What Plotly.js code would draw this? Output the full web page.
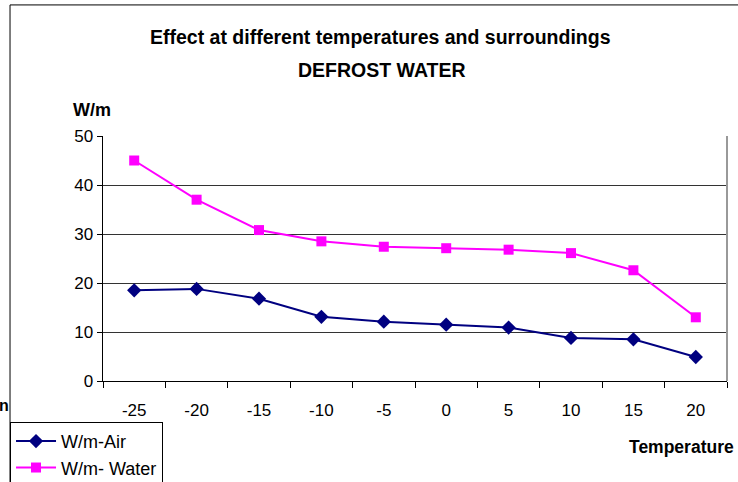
<!DOCTYPE html>
<html>
<head>
<meta charset="utf-8">
<script src="https://cdn.plot.ly/plotly-3.0.1.min.js"></script>
<style>html,body{margin:0;padding:0;background:#fff;}#chart{width:738px;height:482px;}</style>
</head>
<body>
<div id="chart"></div>
<script>
var temperatures = ["-25", "-20", "-15", "-10", "-5", "0", "5", "10", "15", "20"];
var airValues = [18.5, 18.8, 16.8, 13.1, 12.1, 11.5, 10.9, 8.8, 8.5, 4.9];
var waterValues = [45.0, 37.0, 30.8, 28.5, 27.4, 27.1, 26.8, 26.1, 22.6, 13.0];
var yTicks = [0, 10, 20, 30, 40, 50];

var FONT = "Liberation Sans, Arial, sans-serif";

var traces = [
  {
    x: temperatures, y: airValues, name: "W/m-Air", type: "scatter", mode: "lines+markers",
    line: {color: "#000080", width: 2},
    marker: {symbol: "diamond", size: 11, color: "#000080"}
  },
  {
    x: temperatures, y: waterValues, name: "W/m- Water", type: "scatter", mode: "lines+markers",
    line: {color: "#FF00FF", width: 2},
    marker: {symbol: "square", size: 10, color: "#FF00FF"}
  }
];

var layout = {
  width: 738, height: 482,
  margin: {l: 103, r: 11, t: 136, b: 101, autoexpand: false},
  paper_bgcolor: "#fff", plot_bgcolor: "#fff",
  font: {family: FONT, color: "#000", size: 16},
  showlegend: true,
  xaxis: {
    type: "category",
    range: [-0.5, 9.5],
    tickson: "boundaries",
    ticks: "outside", ticklen: 6, tickcolor: "#000", tickwidth: 1,
    ticklabelstandoff: 14,
    showline: true, linecolor: "#000", linewidth: 1,
    showgrid: false, zeroline: false,
    tickfont: {family: FONT, size: 17, color: "#000"},
    automargin: false,
    fixedrange: true
  },
  yaxis: {
    range: [0, 50],
    tickvals: yTicks,
    ticks: "outside", ticklen: 5, tickcolor: "#000", tickwidth: 1,
    showline: true, linecolor: "#000", linewidth: 1.5,
    showgrid: true, gridcolor: "#333", gridwidth: 1,
    zeroline: false,
    tickfont: {family: FONT, size: 17, color: "#000"},
    automargin: false,
    fixedrange: true
  },
  legend: {
    x: -0.149, xanchor: "left", xref: "paper",
    y: -0.167, yanchor: "top", yref: "paper",
    bgcolor: "#fff", bordercolor: "#000", borderwidth: 1,
    font: {family: FONT, size: 18, color: "#000"},
    tracegroupgap: 0, itemwidth: 40
  },
  annotations: [
    {text: "<b>Effect at different temperatures and surroundings</b>", xref: "paper", yref: "paper", x: 0.444, y: 1.404,
     xanchor: "center", yanchor: "middle", showarrow: false, font: {family: FONT, size: 19.5, color: "#000"}},
    {text: "<b>DEFROST WATER</b>", xref: "paper", yref: "paper", x: 0.447, y: 1.269, xanchor: "center", yanchor: "middle",
     showarrow: false, font: {family: FONT, size: 19.5, color: "#000"}},
    {text: "<b>W/m</b>", xref: "paper", yref: "paper", x: -0.018, y: 1.106, xanchor: "center", yanchor: "middle",
     showarrow: false, font: {family: FONT, size: 18, color: "#000"}},
    {text: "<b>Temperature</b>", xref: "paper", yref: "paper", x: 1.015, y: -0.27, xanchor: "right", yanchor: "middle",
     showarrow: false, font: {family: FONT, size: 17.5, color: "#000"}},
    {text: "<b>n</b>", xref: "paper", yref: "paper", x: -0.17, y: -0.10, xanchor: "left", yanchor: "middle",
     showarrow: false, font: {family: FONT, size: 16, color: "#000"}}
  ],
  shapes: [
    {type: "rect", xref: "paper", yref: "paper", x0: -0.149, x1: 1.2, y0: -0.5, y1: 1.535,
     line: {color: "#000", width: 1}, fillcolor: "rgba(0,0,0,0)", layer: "below"},
    {type: "line", xref: "paper", yref: "paper", x0: 1, x1: 1, y0: 0, y1: 1,
     line: {color: "#999", width: 2}}
  ]
};

Plotly.newPlot("chart", traces, layout, {staticPlot: true, displayModeBar: false});
</script>
</body>
</html>
